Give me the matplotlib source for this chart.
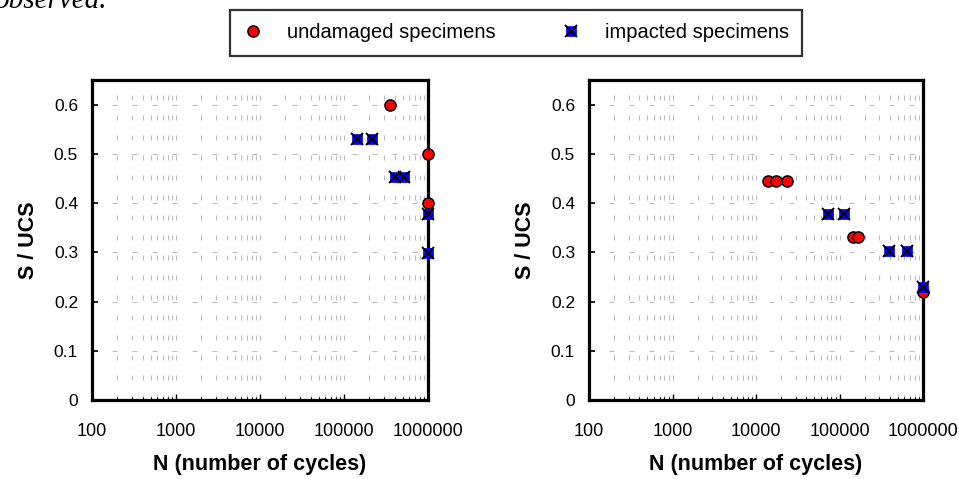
import matplotlib.pyplot as plt
from matplotlib.lines import Line2D
from matplotlib.ticker import LogLocator, NullFormatter, FixedLocator

plt.rcParams['font.family'] = ['Liberation Sans', 'DejaVu Sans']

# left panel
left_undamaged_n = [3.5e5, 1e6, 1e6]
left_undamaged_s = [0.60, 0.50, 0.40]
left_impacted_n = [1.43e5, 2.15e5, 4.0e5, 5.2e5, 1e6, 1e6]
left_impacted_s = [0.53, 0.53, 0.453, 0.453, 0.377, 0.298]

# right panel
right_undamaged_n = [1.4e4, 1.73e4, 2.35e4, 1.45e5, 1.66e5, 1e6]
right_undamaged_s = [0.444, 0.444, 0.444, 0.332, 0.332, 0.22]
right_impacted_n = [7.3e4, 1.13e5, 3.9e5, 6.4e5, 1e6]
right_impacted_s = [0.377, 0.377, 0.302, 0.302, 0.23]

x_ticks = [100, 1000, 10000, 100000, 1000000]
x_tick_labels = ["100", "1000", "10000", "100000", "1000000"]
y_ticks = [0, 0.1, 0.2, 0.3, 0.4, 0.5, 0.6]
y_tick_labels = ["0", "0.1", "0.2", "0.3", "0.4", "0.5", "0.6"]

fig = plt.figure(figsize=(9.59, 4.79), dpi=100)
ax1 = fig.add_axes([92/959, 1-400/479, 336/959, 320/479])
ax2 = fig.add_axes([589/959, 1-400/479, 334/959, 320/479])

grid_kw = dict(color='#bdbdbd', linewidth=0.8, linestyle=(0, (4.5, 13.5)))
MS = 8


def draw_panel(ax, und_n, und_s, imp_n, imp_s):
    ax.set_xscale('log')
    ax.set_xlim(100, 1e6)
    ax.set_ylim(0, 0.65)
    ax.plot(und_n, und_s, 'o', ms=MS, mfc='red', mec='black', mew=1.1, clip_on=False, zorder=3)
    ax.plot(imp_n, imp_s, 's', ms=MS - 0.5, mfc='blue', mec='blue', mew=0.5, clip_on=False, zorder=4)
    ax.plot(imp_n, imp_s, 'x', ms=MS, color='black', mew=1.4, clip_on=False, zorder=5)
    ax.xaxis.set_major_locator(FixedLocator(x_ticks))
    ax.set_xticklabels(x_tick_labels)
    ax.xaxis.set_minor_locator(LogLocator(base=10, subs=range(2, 10)))
    ax.xaxis.set_minor_formatter(NullFormatter())
    ax.set_yticks(y_ticks)
    ax.set_yticklabels(y_tick_labels)
    ax.grid(True, which='both', axis='x', **grid_kw)
    ax.grid(True, which='major', axis='y', **grid_kw)
    ax.set_axisbelow(True)
    for sp in ax.spines.values():
        sp.set_linewidth(2.3)
    ax.tick_params(axis='x', which='major', direction='in', length=4, width=1, pad=16.5, labelsize=13)
    ax.tick_params(axis='x', which='minor', direction='in', length=2.5, width=0.8)
    ax.tick_params(axis='y', which='major', direction='in', length=4, width=1.2, pad=10, labelsize=12.5)
    ax.set_xlabel("N (number of cycles)", fontsize=15.5, fontweight='bold', labelpad=10)
    ax.set_ylabel("S / UCS", fontsize=15.5, fontweight='bold', labelpad=11)


draw_panel(ax1, left_undamaged_n, left_undamaged_s, left_impacted_n, left_impacted_s)
draw_panel(ax2, right_undamaged_n, right_undamaged_s, right_impacted_n, right_impacted_s)

h_und = Line2D([], [], marker='o', ls='none', ms=MS, mfc='red', mec='black', mew=1.1)
h_sq = Line2D([], [], marker='s', ls='none', ms=MS - 0.5, mfc='blue', mec='blue', mew=0.5)
h_x = Line2D([], [], marker='x', ls='none', ms=MS, color='black', mew=1.4)
leg = fig.legend([h_und, (h_sq, h_x)], ["undamaged specimens", "impacted specimens"],
                 loc='center', bbox_to_anchor=(516/959, 1-33/479), ncol=2,
                 fontsize=14.5, frameon=True, fancybox=False, handlelength=1.0,
                 handletextpad=1.2, columnspacing=3.2, borderpad=0.65,
                 borderaxespad=0)
leg.get_frame().set_edgecolor('black')
leg.get_frame().set_linewidth(1.6)

# cut-off line of body text above the figure
fig.text(-0.006, 1-8/479, "observed.", family=['Liberation Serif', 'DejaVu Serif'],
         style='italic', fontsize=21, va='baseline', ha='left')

fig.savefig("out.png", dpi=100)
